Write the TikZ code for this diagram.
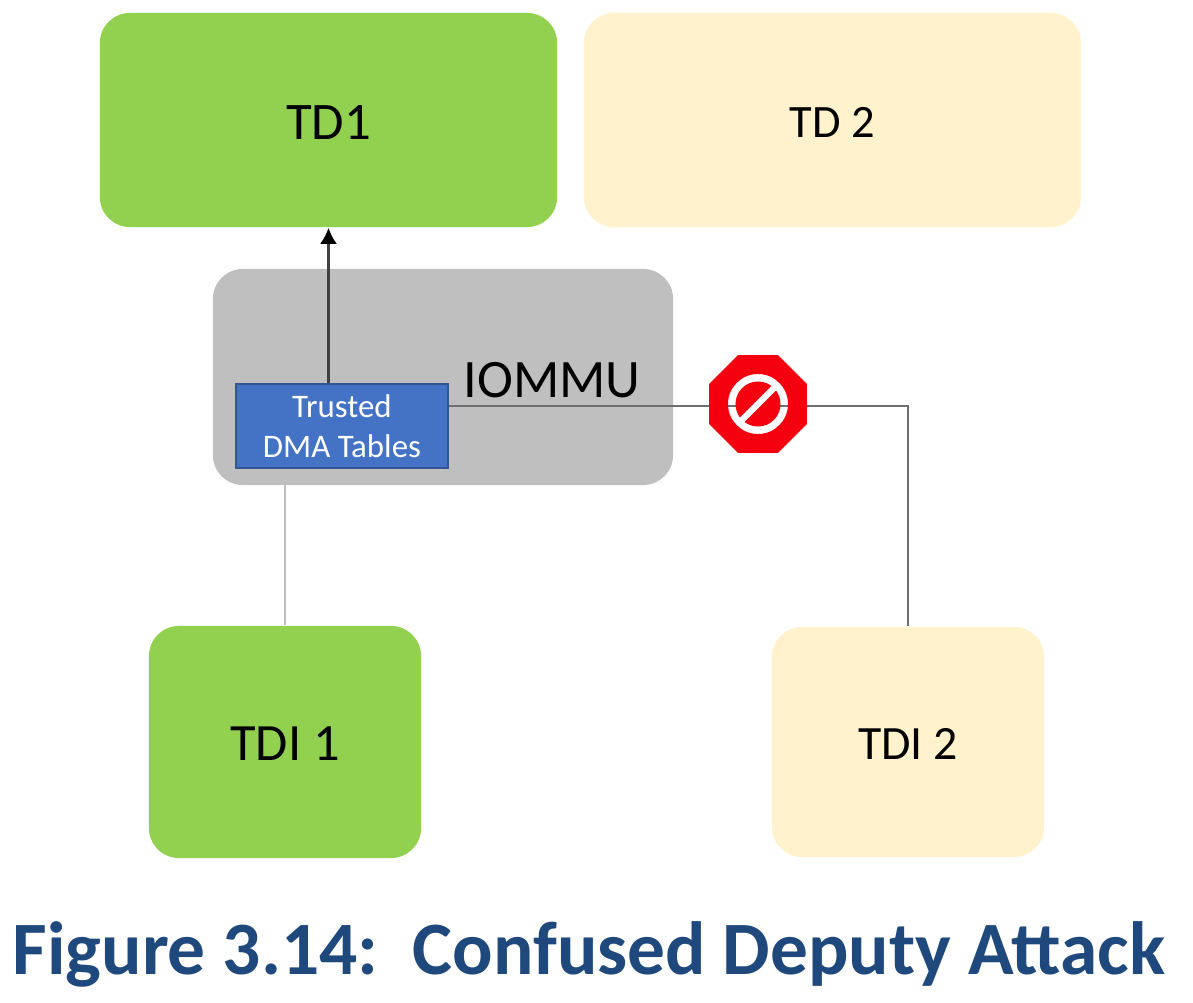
\documentclass[tikz,border=0pt]{standalone}
\usepackage{fontspec}
\setmainfont{Carlito}
\usepackage{xcolor}
\usetikzlibrary{arrows.meta,shapes.geometric}
\definecolor{tdgreen}{HTML}{92D050}
\definecolor{tdcream}{HTML}{FFF2CC}
\definecolor{mmugray}{HTML}{BFBFBF}
\definecolor{dmablue}{HTML}{4472C4}
\definecolor{stopred}{HTML}{F5000F}
\definecolor{capblue}{HTML}{1F497D}
\definecolor{wire}{HTML}{6F6F6F}
\newcommand{\lowered}[1]{\raisebox{-0.6pt}[\height][\depth]{#1}}
\tikzset{
  box/.style={rounded corners=0.3cm, inner sep=0pt, text=black},
  good/.style={box, fill=tdgreen},
  bad/.style={box, fill=tdcream},
  dma/.style={fill=dmablue, draw=dmablue!75!black, line width=0.5pt, inner sep=0pt, minimum width=2.12cm, minimum height=0.84cm, text=white, font=\fontsize{9.35}{11.4}\selectfont, align=center},
  arr/.style={draw=black!75, line width=0.8pt},
  lab/.style={text=black, font=\fontsize{15.4}{17}\selectfont},
}

\begin{document}
\begin{tikzpicture}[x=0.01cm,y=-0.01cm]
  \useasboundingbox (0,0) rectangle (1193,1003);
  \node[good,minimum width=4.57cm,minimum height=2.14cm,font=\fontsize{15}{16}\selectfont] (td1) at (328.5,120) {\lowered{TD1}};
  \node[bad,minimum width=4.97cm,minimum height=2.14cm,font=\fontsize{13.2}{15}\selectfont] (td2) at (832.5,120) {\lowered{TD 2}};
  \node[box,fill=mmugray,minimum width=4.60cm,minimum height=2.16cm] (mmu) at (443,377) {};
  \node[good,minimum width=2.72cm,minimum height=2.32cm,font=\fontsize{14.9}{16}\selectfont] (tdi1) at (285,742) {\lowered{TDI 1}};
  \node[bad,minimum width=2.72cm,minimum height=2.30cm,font=\fontsize{13.6}{15}\selectfont] (tdi2) at (908,742) {\lowered{TDI 2}};
  \node[lab] (mmulab) at (552,380) {IOMMU};
  \node[dma] (tables) at (342,426) {Trusted\\DMA Tables};
  \coordinate (bend) at (tdi2.north |- 0,406);

  \draw[arr,-{Latex[length=0.16cm,width=0.17cm,black]}] (tables.north -| td1.south) -- (td1.south);
  \draw[mmugray,line width=0.7pt] (tables.south -| tdi1.north) -- (tdi1.north);
  \draw[wire,line width=0.7pt] (tables.east |- bend) -- (bend) -- (tdi2.north);

  % sign sits on the wire, the ring is left open
  \node[regular polygon,regular polygon sides=8,minimum size=1.04cm,inner sep=0pt] (stop) at (758,404) {};
  \fill[stopred,even odd rule] (stop.corner 1) -- (stop.corner 2) -- (stop.corner 3) -- (stop.corner 4) -- (stop.corner 5) -- (stop.corner 6) -- (stop.corner 7) -- (stop.corner 8) -- cycle (stop.center) circle[radius=0.30cm];
  \fill[stopred] (stop.center) circle[radius=0.225cm];
  \draw[white,line width=1.8pt] (stop.center) ++(-17,17) -- ++(34,-34);

  \node[text=capblue,font=\fontsize{21.44}{24}\selectfont\bfseries] (cap) at (589,954) {Figure 3.14:~~Confused Deputy Attack};
\end{tikzpicture}
\end{document}
